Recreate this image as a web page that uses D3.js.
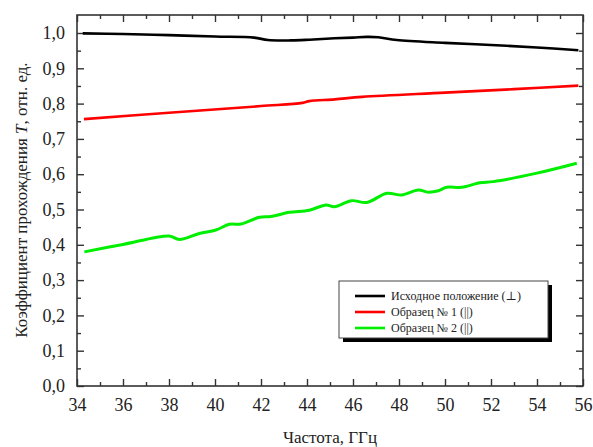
<!DOCTYPE html>
<html>
<head>
<meta charset="utf-8">
<script src="https://cdn.jsdelivr.net/npm/d3@7"></script>
<style>
  body { margin: 0; background: #fff; }
  svg { display: block; }
  svg text { font-family: "Liberation Serif", "DejaVu Serif", serif; }
</style>
</head>
<body>
<svg id="chart" width="593" height="447"></svg>
<script>
// Transmission coefficient vs frequency
const seriesNames = ["Исходное положение (⊥)", "Образец № 1 (||)", "Образец № 2 (||)"];
const seriesColors = ["#000000", "#ff0000", "#00ee00"];

const freqInitial = [34.25, 36, 38, 40, 41.7, 42.3, 43.3, 44.1, 45.2, 46.0, 46.6, 47.1, 47.9, 50, 52, 54, 55.8];
const valInitial  = [0.999, 0.997, 0.994, 0.990, 0.987, 0.980, 0.979, 0.981, 0.985, 0.987, 0.989, 0.988, 0.980, 0.972, 0.966, 0.959, 0.951];

const freqSample1 = [34.3, 38, 42, 43.8, 44.1, 45.2, 46.4, 50, 53, 55.8];
const valSample1  = [0.756, 0.774, 0.793, 0.802, 0.807, 0.812, 0.819, 0.831, 0.841, 0.851];

const freqSample2 = [34.32, 36, 38.01, 38.45, 39.32, 40.04, 40.62, 41.13, 41.93, 42.43, 43.23, 44.10, 44.83, 45.19, 45.94, 46.60, 47.47, 48.12, 48.84, 49.27, 49.71, 50.07, 50.73, 51.52, 52.10, 54, 55.73];
const valSample2  = [0.380, 0.401, 0.425, 0.415, 0.432, 0.442, 0.458, 0.459, 0.478, 0.480, 0.492, 0.498, 0.513, 0.508, 0.525, 0.520, 0.546, 0.541, 0.555, 0.549, 0.553, 0.563, 0.563, 0.576, 0.579, 0.603, 0.631];

const xTickValues = [34, 36, 38, 40, 42, 44, 46, 48, 50, 52, 54, 56];
const yTickValues = [0, 0.1, 0.2, 0.3, 0.4, 0.5, 0.6, 0.7, 0.8, 0.9, 1.0];

const series = [
  { name: seriesNames[0], color: seriesColors[0], x: freqInitial, y: valInitial, w: 2.6 },
  { name: seriesNames[1], color: seriesColors[1], x: freqSample1, y: valSample1, w: 2.6 },
  { name: seriesNames[2], color: seriesColors[2], x: freqSample2, y: valSample2, w: 3.0 }
];

const svg = d3.select("#chart");
const plotLeft = 77, plotRight = 583, plotTop = 15, plotBottom = 386;
const serif = '"Liberation Serif", "DejaVu Serif", serif';

const x = d3.scaleLinear().domain([34, 56]).range([plotLeft, plotRight]);
const y = d3.scaleLinear().domain([0, 1.051]).range([plotBottom, plotTop]);

const fmt = v => d3.format(".1f")(v).replace(".", ",");
const axisColor = "#333";

// minor tick positions
const xMinor = d3.range(35, 56, 2);
const yMinor = d3.range(0.05, 1.05, 0.1);

function styleAxis(g) {
  g.attr("font-family", serif);
  g.select(".domain").remove();
  g.selectAll("line").attr("stroke", axisColor).attr("stroke-width", 1.4);
  g.selectAll("text").attr("fill", "#222").attr("font-size", 18).attr("font-family", serif);
}

// bottom axis with inward ticks
svg.append("g").attr("transform", `translate(0,${plotBottom})`)
  .call(d3.axisBottom(x).tickValues(xTickValues).tickSize(-7).tickPadding(12).tickFormat(d3.format("d")))
  .call(styleAxis);
svg.append("g").attr("transform", `translate(0,${plotBottom})`)
  .call(d3.axisBottom(x).tickValues(xMinor).tickSize(-4).tickFormat(""))
  .call(styleAxis);
// top axis mirrored
svg.append("g").attr("transform", `translate(0,${plotTop})`)
  .call(d3.axisTop(x).tickValues(xTickValues).tickSize(-7).tickFormat(""))
  .call(styleAxis);
svg.append("g").attr("transform", `translate(0,${plotTop})`)
  .call(d3.axisTop(x).tickValues(xMinor).tickSize(-4).tickFormat(""))
  .call(styleAxis);
// left axis
svg.append("g").attr("transform", `translate(${plotLeft},0)`)
  .call(d3.axisLeft(y).tickValues(yTickValues).tickSize(-7).tickPadding(12).tickFormat(fmt))
  .call(styleAxis);
svg.append("g").attr("transform", `translate(${plotLeft},0)`)
  .call(d3.axisLeft(y).tickValues(yMinor).tickSize(-4).tickFormat(""))
  .call(styleAxis);
// right axis mirrored
svg.append("g").attr("transform", `translate(${plotRight},0)`)
  .call(d3.axisRight(y).tickValues(yTickValues).tickSize(-7).tickFormat(""))
  .call(styleAxis);
svg.append("g").attr("transform", `translate(${plotRight},0)`)
  .call(d3.axisRight(y).tickValues(yMinor).tickSize(-4).tickFormat(""))
  .call(styleAxis);

// frame
svg.append("rect")
  .attr("x", plotLeft).attr("y", plotTop)
  .attr("width", plotRight - plotLeft).attr("height", plotBottom - plotTop)
  .attr("fill", "none").attr("stroke", axisColor).attr("stroke-width", 1.6);

// data lines
const line = d3.line().curve(d3.curveCatmullRom.alpha(0.5));
series.forEach(s => {
  const pts = s.x.map((f, i) => [x(f), y(s.y[i])]);
  svg.append("path")
    .attr("d", line(pts))
    .attr("fill", "none")
    .attr("stroke", s.color)
    .attr("stroke-width", s.w)
    .attr("stroke-linejoin", "round");
});

// axis titles
svg.append("text")
  .attr("x", 330).attr("y", 443)
  .attr("text-anchor", "middle")
  .attr("font-size", 17).attr("fill", "#222")
  .text("Частота, ГГц");

const yt = svg.append("text")
  .attr("transform", "translate(27,200) rotate(-90)")
  .attr("text-anchor", "middle")
  .attr("font-size", 17).attr("fill", "#222");
yt.append("tspan").text("Коэффициент прохождения ");
yt.append("tspan").attr("font-style", "italic").text("T");
yt.append("tspan").text(", отн. ед.");

// legend
const lg = { x: 339, y: 281, w: 209, h: 57 };
svg.append("rect")
  .attr("x", lg.x + 4).attr("y", lg.y + 4)
  .attr("width", lg.w).attr("height", lg.h)
  .attr("fill", "#000");
svg.append("rect")
  .attr("x", lg.x).attr("y", lg.y)
  .attr("width", lg.w).attr("height", lg.h)
  .attr("fill", "#fff").attr("stroke", "#444").attr("stroke-width", 1);

series.forEach((s, i) => {
  const ry = 296 + i * 16;
  svg.append("line")
    .attr("x1", 355).attr("x2", 385)
    .attr("y1", ry).attr("y2", ry)
    .attr("stroke", s.color).attr("stroke-width", 2.6);
  svg.append("text")
    .attr("x", 391).attr("y", ry + 4)
    .attr("font-size", 12).attr("fill", "#222")
    .text(s.name);
});
</script>
</body>
</html>
